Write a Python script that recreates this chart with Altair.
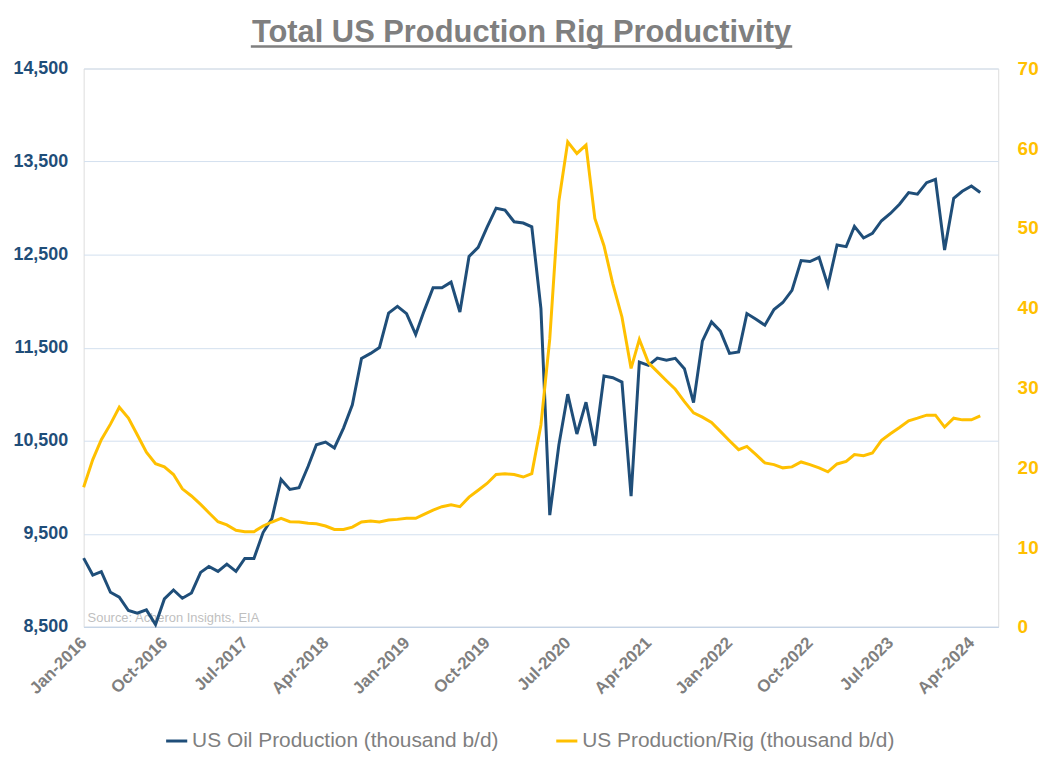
import altair as alt
import pandas as pd

# ---- data (monthly, Jan-2016 .. May-2024) ----
months = pd.date_range("2016-01-01", periods=101, freq="MS")

oil_production = [
    9238, 9056, 9092, 8871, 8818, 8675, 8646, 8682, 8525, 8800,
    8896, 8807, 8864, 9085, 9149, 9096, 9174, 9096, 9235, 9235,
    9513, 9663, 10083, 9976, 9994, 10225, 10457, 10486, 10422, 10636,
    10885, 11385, 11438, 11502, 11872, 11944, 11866, 11641, 11890, 12144,
    12144, 12204, 11883, 12479, 12578, 12792, 12999, 12978, 12853, 12839,
    12799, 11920, 9700, 10457, 11000, 10572, 10914, 10445, 11195, 11177,
    11130, 9905, 11345, 11310, 11388, 11366, 11385, 11274, 10910, 11570,
    11777, 11677, 11438, 11455, 11866, 11805, 11741, 11910, 11985, 12115,
    12436, 12425, 12471, 12168, 12604, 12586, 12803, 12679, 12728, 12864,
    12942, 13042, 13167, 13149, 13273, 13310, 12550, 13106, 13181, 13238,
    13167,
]

production_per_rig = [
    17.5, 20.96, 23.46, 25.41, 27.53, 26.16, 24.08, 21.88, 20.46, 20.05,
    19.09, 17.3, 16.4, 15.35, 14.31, 13.18, 12.77, 12.1, 11.93, 11.93,
    12.64, 13.14, 13.6, 13.18, 13.14, 12.98, 12.93, 12.64, 12.2, 12.2,
    12.5, 13.14, 13.27, 13.14, 13.39, 13.47, 13.6, 13.6, 14.1, 14.64,
    15.06, 15.31, 15.06, 16.26, 17.13, 17.97, 19.09, 19.2, 19.09, 18.78,
    19.21, 25.3, 36.1, 53.4, 60.8, 59.35, 60.39, 51.2, 47.79, 43.01,
    38.85, 32.4, 36.04, 33.1, 32.0, 30.85, 29.78, 28.24, 26.83, 26.29,
    25.62, 24.5, 23.33, 22.21, 22.62, 21.59, 20.55, 20.34, 19.93, 20.05,
    20.67, 20.34, 19.93, 19.43, 20.42, 20.75, 21.59, 21.46, 21.79, 23.37,
    24.21, 25.0, 25.83, 26.16, 26.54, 26.54, 25.04, 26.16, 25.95, 25.95,
    26.45,
]

OIL = "US Oil Production (thousand b/d)"
RIG = "US Production/Rig (thousand b/d)"
series_names = [OIL, RIG]
series_colors = ["#1F4E79", "#FFC000"]

left_ticks = [8500, 9500, 10500, 11500, 12500, 13500, 14500]
right_ticks = [0, 10, 20, 30, 40, 50, 60, 70]
# x tick labels every 9 months: Jan-2016, Oct-2016, ..., Apr-2024
x_tick_months = [(2016 + (m // 12), m % 12 + 1) for m in range(0, 100, 9)]

TITLE = "Total US Production Rig Productivity"
SOURCE = "Source: Acheron Insights, EIA"

ARIAL = "Liberation Sans, Arial, sans-serif"
GRAY = "#7F7F7F"
GRID = "#D3E0EF"

df = pd.DataFrame({
    "date": list(months) * 2,
    "value": oil_production + production_per_rig,
    "series": [OIL] * len(months) + [RIG] * len(months),
})

W, H = 919, 561

x_enc = alt.X(
    "date:T",
    scale=alt.Scale(domain=[alt.DateTime(year=2016, month=1, date=1),
                            alt.DateTime(year=2024, month=7, date=1)]),
    axis=alt.Axis(
        values=[alt.DateTime(year=y, month=mo, date=1) for y, mo in x_tick_months],
        format="%b-%Y", labelAngle=-45, labelAlign="right", labelBaseline="middle",
        labelPadding=13, labelFont=ARIAL, labelFontSize=17, labelFontWeight="bold",
        labelColor=GRAY, ticks=False, grid=False, domainColor="#C5D4E6",
        domainWidth=1.2, title=None, labelOverlap=False,
    ),
)

color_enc = alt.Color(
    "series:N",
    scale=alt.Scale(domain=series_names, range=series_colors),
    legend=alt.Legend(
        title=None, orient="none", direction="horizontal", legendX=81, legendY=663,
        symbolType="stroke", symbolSize=450, symbolStrokeWidth=3,
        labelFont=ARIAL, labelFontSize=21, labelColor=GRAY, labelOffset=3,
        labelLimit=0, columnPadding=50,
    ),
)

base = alt.Chart(df).encode(x=x_enc, color=color_enc)

oil_line = base.transform_filter(alt.datum.series == OIL).mark_line(strokeWidth=3).encode(
    y=alt.Y(
        "value:Q",
        scale=alt.Scale(domain=[8500, 14500], nice=False, zero=False),
        axis=alt.Axis(
            orient="left", values=left_ticks, format=",.0f", title=None,
            labelFont=ARIAL, labelFontSize=18, labelFontWeight="bold",
            labelColor="#1F4E79", labelPadding=16, ticks=False, domain=False,
            grid=True, gridColor=GRID, gridWidth=1,
        ),
    )
)

rig_line = base.transform_filter(alt.datum.series == RIG).mark_line(strokeWidth=3).encode(
    y=alt.Y(
        "value:Q",
        scale=alt.Scale(domain=[0, 70], nice=False),
        axis=alt.Axis(
            orient="right", values=right_ticks, format=".0f", title=None,
            labelFont=ARIAL, labelFontSize=19, labelFontWeight="bold",
            labelColor="#FFC000", labelPadding=19, ticks=False, domain=False,
            grid=False,
        ),
    )
)

source = alt.Chart(pd.DataFrame({"t": [SOURCE]})).mark_text(
    align="left", baseline="bottom", font=ARIAL, fontSize=13, color="#BFBFBF"
).encode(text="t:N", x=alt.value(4), y=alt.value(H - 2))

title = alt.Chart(pd.DataFrame({"t": [TITLE]})).mark_text(
    align="center", baseline="alphabetic", font=ARIAL, fontSize=31,
    fontWeight="bold", color=GRAY
).encode(text="t:N", x=alt.value(440), y=alt.value(-27))

underline = alt.Chart(pd.DataFrame({"u": [0]})).mark_rule(
    color=GRAY, strokeWidth=2.5
).encode(x=alt.value(168), x2=alt.value(712), y=alt.value(-22))

chart = alt.layer(source, oil_line, rig_line, title, underline).resolve_scale(
    y="independent"
).properties(
    width=W, height=H,
    autosize=alt.AutoSizeParams(type="none"),
    padding={"left": 76, "top": 59, "right": 45, "bottom": 126},
).configure_view(stroke=None).configure(background="white")

chart.save("out.html", embed_options={"renderer": "svg", "actions": False})
